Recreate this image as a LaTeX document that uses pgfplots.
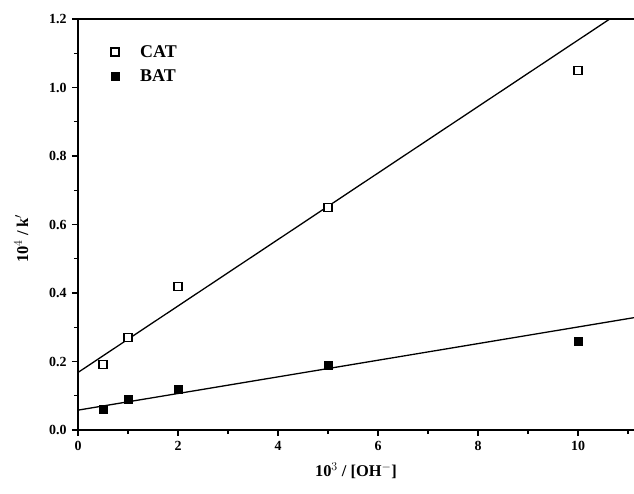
\documentclass[border=0pt]{standalone}
\usepackage{fontspec}
\setmainfont{Liberation Serif}
\usepackage{pgfplots}
\pgfplotsset{compat=1.18}
\begin{document}
\begin{tikzpicture}
\useasboundingbox (-78bp,-64bp) rectangle (556bp,430bp);
\begin{axis}[
  scale only axis, width=556bp, height=411bp,
  xmin=0, xmax=11.12, ymin=0, ymax=1.2,
  axis x line*=bottom, axis y line*=left,
  axis line style={line width=1.5bp, -},
  xtick={0,2,...,10}, minor xtick={1,3,...,11},
  ytick={0,0.2,...,1.2}, minor ytick={0.1,0.3,...,1.1},
  tick align=outside, tick style={line width=1.2bp, black},
  major tick length=6bp, minor tick length=4bp,
  /pgf/number format/assume math mode=true,
  ticklabel style={font=\bfseries\fontsize{14}{16}\selectfont},
  xticklabel style={yshift=-2bp},
  yticklabel style={/pgf/number format/fixed, /pgf/number format/fixed zerofill, /pgf/number format/precision=1, xshift=-2bp},
  xlabel={\bfseries 10$^{3}$ / [OH$^{-}$]},
  ylabel={\bfseries 10$^{4}$ / k$'$},
  label style={font=\fontsize{16.5}{18}\selectfont},
  xlabel style={yshift=-5bp},
  ylabel style={yshift=14bp, xshift=-14bp},
  clip=true,
]
\addplot[only marks, mark=square*, mark options={fill=white, draw=black, line width=1.1bp}, mark size=4bp] coordinates {
 (0.5,0.19) (1,0.27) (2,0.42) (5,0.65) (10,1.05)};
\addplot[only marks, mark=square*, mark options={fill=black, draw=black}, mark size=4bp] coordinates {
 (0.5,0.06) (1,0.09) (2,0.12) (5,0.19) (10,0.26)};
\addplot[black, line width=1.3bp] coordinates {(0,0.168) (11.12,1.247)};
\addplot[black, line width=1.3bp] coordinates {(0,0.058) (11.12,0.328)};
\end{axis}
\draw[line width=1.5bp] (0,411bp) -- (556bp,411bp);
\node[draw=black, fill=white, line width=1.1bp, minimum size=8bp, inner sep=0pt] at (37bp,378bp) {};
\node[draw=black, fill=black, minimum size=8bp, inner sep=0pt] at (37bp,354bp) {};
\node[anchor=west, inner sep=0pt, font=\bfseries\fontsize{18}{20}\selectfont] at (62bp,378bp) {CAT};
\node[anchor=west, inner sep=0pt, font=\bfseries\fontsize{18}{20}\selectfont] at (62bp,354bp) {BAT};
\end{tikzpicture}
\end{document}
